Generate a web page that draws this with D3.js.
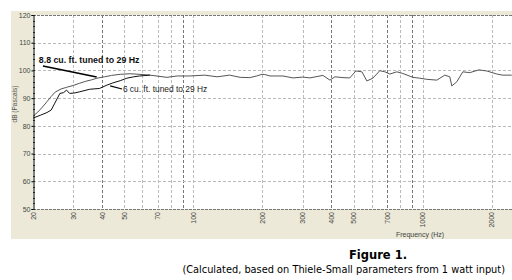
<!DOCTYPE html>
<html>
<head>
<meta charset="utf-8">
<script src="https://cdn.jsdelivr.net/npm/d3@7"></script>
<style>
  body { margin: 0; background: #fff; }
  svg { display: block; }
</style>
</head>
<body>
<div id="chart"></div>
<script>
// response curves (Hz / dB)
const freq88 = [20, 21, 22, 23, 24, 25, 26.5, 28, 30, 32, 34, 36, 38, 41, 44, 48, 53, 58, 64.7,
  76.7, 84.8, 96.6, 112, 127, 144, 160, 176, 189, 199, 205, 216, 246, 272, 300, 322, 367, 394,
  414, 449, 481, 511, 543, 571, 606, 650, 684, 719, 771, 819, 906, 971, 1042, 1152, 1248, 1312,
  1339, 1408, 1495, 1604, 1756, 1902, 2102, 2233, 2444];
const db88 = [83.5, 85, 86.8, 88.7, 90.6, 92.2, 93.3, 93.9, 94.6, 95.4, 96.1, 96.6, 97.2, 97.7, 98.2, 98.6, 98.8, 98.6, 98.3,
  97.5, 98, 98, 98.3, 97.7, 98.3, 97.5, 97.4, 98, 98.6, 98.5, 98.0, 98.0, 97.3, 97.6, 97.3, 98.2, 96.5,
  97.7, 97.4, 97.3, 99.8, 99.5, 96.2, 97.2, 99.9, 99.5, 98.7, 99.5, 98.9, 97.5, 97.2, 96.8, 96.5, 98.3, 97.7,
  94.4, 95.9, 99.5, 99.2, 100.2, 99.8, 98.7, 98.3, 98.3];

const freq6 = [20, 21.5, 23, 24, 24.9, 26.2, 27.2, 28.0, 28.9, 30.5, 32, 35.3, 39, 42, 44.6, 48, 51.3, 55, 58.3, 64.7];
const db6 = [82.8, 83.8, 84.8, 85.7, 88.2, 91.7, 92.0, 92.9, 91.7, 91.9, 92.3, 93.2, 93.5, 94.7, 95.5, 96.3, 97.2, 97.7, 98.0, 98.3];

const xTickLabels = [20, 30, 40, 50, 70, 100, 200, 300, 400, 500, 700, 1000, 2000];
const xGrid = [30, 40, 50, 60, 70, 80, 90, 100, 200, 300, 400, 500, 600, 700, 800, 900, 1000, 2000];
const xGridDark = [40, 90, 400, 700, 900];
const yTicks = [50, 60, 70, 80, 90, 100, 110, 120];
const yGrid = [60, 70, 80, 90, 100, 110];

// annotation anchors in data units
const label88 = { text: "8.8 cu. ft. tuned to 29 Hz", f: 21.2, db: 102.7, from: [22.1, 101.6], to: [37.9, 97.6] };
const label6 = { text: "6 cu. ft. tuned to 29 Hz", f: 49.3, db: 92.2, from: [48.9, 93.3], to: [43.4, 94.4] };

const W = 512, H = 280;
const plot = { left: 33, top: 15, right: 512, bottom: 209 };

const svg = d3.select("#chart").append("svg")
  .attr("width", W)
  .attr("height", H);

// windows style panel
svg.append("rect")
  .attr("x", 11).attr("y", 11)
  .attr("width", W - 11).attr("height", 228)
  .attr("fill", "#ece9d8");

svg.append("rect")
  .attr("x", plot.left).attr("y", plot.top)
  .attr("width", plot.right - plot.left).attr("height", plot.bottom - plot.top)
  .attr("fill", "#fff");

const x = d3.scaleLog().domain([20, 2450]).range([plot.left, plot.right]);
const y = d3.scaleLinear().domain([50, 120]).range([plot.bottom, plot.top]);

// grid
svg.append("g")
  .selectAll("line")
  .data(xGrid)
  .join("line")
  .attr("x1", d => Math.round(x(d)) + 0.5)
  .attr("x2", d => Math.round(x(d)) + 0.5)
  .attr("y1", plot.top)
  .attr("y2", plot.bottom)
  .attr("stroke", d => xGridDark.includes(d) ? "#777" : "#bbb")
  .attr("stroke-dasharray", "3,2");

svg.append("g")
  .selectAll("line")
  .data(yGrid)
  .join("line")
  .attr("x1", plot.left)
  .attr("x2", plot.right)
  .attr("y1", d => Math.round(y(d)) + 0.5)
  .attr("y2", d => Math.round(y(d)) + 0.5)
  .attr("stroke", "#bbb")
  .attr("stroke-dasharray", "3,2");

// top and bottom borders (dashed, darker)
[120, 50].forEach(v => {
  svg.append("line")
    .attr("x1", plot.left).attr("x2", plot.right)
    .attr("y1", Math.round(y(v)) + 0.5).attr("y2", Math.round(y(v)) + 0.5)
    .attr("stroke", "#777")
    .attr("stroke-dasharray", "3,1");
});

// y axis
const yAxis = svg.append("g")
  .attr("transform", `translate(${plot.left + 0.5},0)`)
  .call(d3.axisLeft(y).tickValues(yTicks).tickSize(2).tickPadding(1));
yAxis.select(".domain").attr("stroke", "#000");
yAxis.selectAll(".tick line").attr("stroke", "#000");
yAxis.selectAll("text")
  .attr("font-family", "Liberation Sans, Arial, sans-serif")
  .attr("font-size", 7)
  .attr("fill", "#444");

// minor ticks on y axis
svg.append("g")
  .selectAll("line")
  .data(d3.range(50, 121, 2))
  .join("line")
  .attr("x1", plot.left)
  .attr("x2", plot.left + 2)
  .attr("y1", d => Math.round(y(d)) + 0.5)
  .attr("y2", d => Math.round(y(d)) + 0.5)
  .attr("stroke", "#222");

svg.append("text")
  .attr("transform", "translate(17,104) rotate(-90)")
  .attr("text-anchor", "middle")
  .attr("font-family", "Liberation Sans, Arial, sans-serif")
  .attr("font-size", 6.5)
  .attr("fill", "#555")
  .text("dB (Pascals)");

// x tick labels, rotated
svg.append("g")
  .selectAll("text")
  .data(xTickLabels)
  .join("text")
  .attr("transform", d => `translate(${x(d) + 2.5},${plot.bottom + 3}) rotate(-90)`)
  .attr("text-anchor", "end")
  .attr("font-family", "Liberation Sans, Arial, sans-serif")
  .attr("font-size", 7)
  .attr("fill", "#444")
  .text(d => d);

svg.append("text")
  .attr("x", 420).attr("y", 237)
  .attr("text-anchor", "middle")
  .attr("font-family", "Liberation Sans, Arial, sans-serif")
  .attr("font-size", 7)
  .attr("fill", "#444")
  .text("Frequency (Hz)");

// curves
const line = d3.line()
  .x(d => x(d[0]))
  .y(d => y(d[1]));

svg.append("path")
  .datum(d3.zip(freq88, db88))
  .attr("d", line)
  .attr("fill", "none")
  .attr("stroke", "#555")
  .attr("stroke-width", 1);

svg.append("path")
  .datum(d3.zip(freq6, db6))
  .attr("d", line)
  .attr("fill", "none")
  .attr("stroke", "#111")
  .attr("stroke-width", 1);

// annotations
svg.append("line")
  .attr("x1", x(label88.from[0])).attr("y1", y(label88.from[1]))
  .attr("x2", x(label88.to[0])).attr("y2", y(label88.to[1]))
  .attr("stroke", "#000")
  .attr("stroke-width", 1.6);
svg.append("text")
  .attr("x", x(label88.f)).attr("y", y(label88.db))
  .attr("font-family", "Liberation Sans, Arial, sans-serif")
  .attr("font-size", 8.8)
  .attr("font-weight", "bold")
  .attr("fill", "#111")
  .text(label88.text);

svg.append("line")
  .attr("x1", x(label6.from[0])).attr("y1", y(label6.from[1]))
  .attr("x2", x(label6.to[0])).attr("y2", y(label6.to[1]))
  .attr("stroke", "#000")
  .attr("stroke-width", 1.2);
svg.append("text")
  .attr("x", x(label6.f)).attr("y", y(label6.db))
  .attr("font-family", "Liberation Sans, Arial, sans-serif")
  .attr("font-size", 8.4)
  .attr("fill", "#222")
  .text(label6.text);

// caption
svg.append("text")
  .attr("x", 378).attr("y", 259)
  .attr("text-anchor", "middle")
  .attr("font-family", "DejaVu Sans, Verdana, sans-serif")
  .attr("font-size", 11.5)
  .attr("font-weight", "bold")
  .attr("fill", "#000")
  .text("Figure 1.");

svg.append("text")
  .attr("x", 505).attr("y", 273)
  .attr("text-anchor", "end")
  .attr("font-family", "DejaVu Sans, Verdana, sans-serif")
  .attr("font-size", 9.8)
  .attr("fill", "#000")
  .text("(Calculated, based on Thiele-Small parameters from 1 watt input)");
</script>
</body>
</html>
